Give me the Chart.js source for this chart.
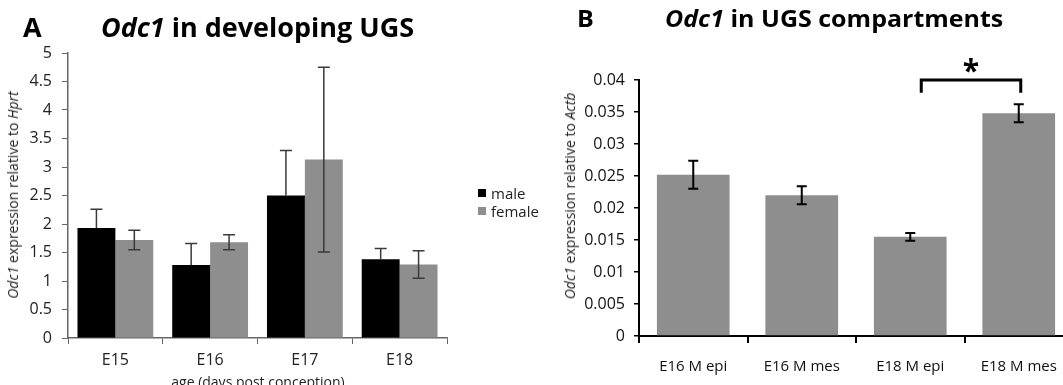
<!DOCTYPE html>
<html><head><meta charset="utf-8">
<script src="https://cdn.jsdelivr.net/npm/chart.js@4.4.1/dist/chart.umd.min.js"></script>
<style>
html,body{margin:0;padding:0;width:1063px;height:385px;overflow:hidden;background:#fff;font-family:'Open Sans',sans-serif;color:#000;}
.abs{position:absolute;white-space:nowrap;line-height:1;}
.title{font-weight:700;}
.rot{transform:translate(-50%,-50%) rotate(-90deg);}
#wrapA{position:absolute;left:0;top:0;width:560px;height:385px;}
#wrapB{position:absolute;left:540px;top:0;width:540px;height:385px;}
.sw{position:absolute;width:8px;height:8px;}
</style></head><body>
<div id="wrapA"><canvas id="chartA" width="560" height="385"></canvas></div>
<div id="wrapB"><canvas id="chartB" width="540" height="385"></canvas></div>

<div class="abs title" style="left:23px;top:13px;font-size:27px;">A</div>
<div class="abs title" style="left:101px;top:13px;font-size:27px;"><i>Odc1</i> in developing UGS</div>
<div class="abs title" style="left:577px;top:5px;font-size:25px;transform-origin:0 22px;transform:scaleY(0.9);">B</div>
<div class="abs title" style="left:665px;top:5px;font-size:25px;transform-origin:0 22px;transform:scaleY(0.9);"><i>Odc1</i> in UGS compartments</div>

<div class="abs rot" style="left:13px;top:195px;font-size:14px;color:#222;"><i>Odc1</i> expression relative to <i>Hprt</i></div>
<div class="abs rot" style="left:570px;top:196px;font-size:14px;color:#222;"><i>Odc1</i> expression relative to <i>Actb</i></div>
<div class="abs" style="left:258px;top:382px;transform:translate(-50%,-50%);font-size:14px;color:#222;">age (days post conception)</div>

<div class="sw" style="left:478px;top:189px;background:#000;"></div>
<div class="abs" style="left:491px;top:193px;transform:translateY(-50%);font-size:15px;color:#222;">male</div>
<div class="sw" style="left:478px;top:207px;background:#8e8e8e;"></div>
<div class="abs" style="left:491px;top:211px;transform:translateY(-50%);font-size:15px;color:#222;">female</div>

<script>
// ---- Panel A data ----
const categoriesA = ['E15', 'E16', 'E17', 'E18'];
const maleValues = [1.93, 1.28, 2.50, 1.38];
const maleErrors = [0.33, 0.38, 0.79, 0.19];
const femaleValues = [1.72, 1.68, 3.13, 1.29];
const femaleErrors = [0.17, 0.13, 1.62, 0.24];
const yTicksA = ['0', '0.5', '1', '1.5', '2', '2.5', '3', '3.5', '4', '4.5', '5'];

// ---- Panel B data ----
const categoriesB = ['E16 M epi', 'E16 M mes', 'E18 M epi', 'E18 M mes'];
const valuesB = [0.0252, 0.0220, 0.0155, 0.0348];
const errorsB = [0.0022, 0.0014, 0.0006, 0.0014];
const yTicksB = ['0', '0.005', '0.01', '0.015', '0.02', '0.025', '0.03', '0.035', '0.04'];
const significantPair = [2, 3];

const errorBarPlugin = {
  id: 'errorBars',
  afterDatasetsDraw(chart) {
    const ctx = chart.ctx, y = chart.scales.y;
    chart.data.datasets.forEach((ds, i) => {
      const meta = chart.getDatasetMeta(i);
      meta.data.forEach((bar, j) => {
        const v = ds.data[j], e = ds.errors[j];
        const top = y.getPixelForValue(v + e);
        const bot = ds.errPlusOnly ? y.getPixelForValue(v) : y.getPixelForValue(v - e);
        const cap = ds.errCap;
        ctx.save();
        ctx.strokeStyle = ds.errColor; ctx.lineWidth = ds.errWidth;
        ctx.beginPath();
        ctx.moveTo(bar.x, top); ctx.lineTo(bar.x, bot);
        ctx.moveTo(bar.x - cap, top); ctx.lineTo(bar.x + cap, top);
        if (!ds.errPlusOnly) { ctx.moveTo(bar.x - cap, bot); ctx.lineTo(bar.x + cap, bot); }
        ctx.stroke();
        ctx.restore();
      });
    });
  }
};

const bracketPlugin = {
  id: 'bracket',
  afterDraw(chart) {
    const ctx = chart.ctx, x = chart.scales.x, y = chart.scales.y;
    const x1 = x.getPixelForValue(significantPair[0]) + 11;
    const x2 = x.getPixelForValue(significantPair[1]) + 2;
    const top = y.getPixelForValue(0.04), leg = y.getPixelForValue(0.038);
    ctx.save();
    ctx.strokeStyle = '#000'; ctx.lineWidth = 3; ctx.lineCap = 'butt';
    ctx.beginPath();
    ctx.moveTo(x1, leg); ctx.lineTo(x1, top); ctx.lineTo(x2, top); ctx.lineTo(x2, leg);
    ctx.stroke();
    ctx.fillStyle = '#000';
    ctx.font = 'bold 30px "Open Sans"';
    ctx.textAlign = 'center'; ctx.textBaseline = 'middle';
    ctx.fillText('*', (x1 + x2) / 2, top - 8);
    ctx.restore();
  }
};

new Chart(document.getElementById('chartA'), {
  type: 'bar',
  data: {
    labels: categoriesA,
    datasets: [
      { label: 'male', data: maleValues, errors: maleErrors, backgroundColor: '#000000',
        categoryPercentage: 0.8, barPercentage: 1.0, errColor: '#3a3a3a', errWidth: 1.5, errCap: 6, errPlusOnly: true },
      { label: 'female', data: femaleValues, errors: femaleErrors, backgroundColor: '#8e8e8e',
        categoryPercentage: 0.8, barPercentage: 1.0, errColor: '#3a3a3a', errWidth: 1.5, errCap: 6 }
    ]
  },
  options: {
    responsive: false, animation: false,
    layout: { padding: { left: 0, right: 113, top: 53, bottom: 0 } },
    plugins: { legend: { display: false }, tooltip: { enabled: false } },
    scales: {
      x: {
        grid: { drawOnChartArea: false, drawTicks: true, tickLength: 6, color: '#666', offset: true },
        border: { color: '#666', width: 1.5 },
        ticks: { font: { family: 'Open Sans', size: 16 }, color: '#222', padding: 7 },
        afterFit(s) { s.height = 47; }
      },
      y: {
        min: 0, max: 5,
        grid: { drawOnChartArea: false, drawTicks: true, tickLength: 6, color: '#666' },
        border: { color: '#666', width: 1.5 },
        ticks: { stepSize: 0.5, font: { family: 'Open Sans', size: 16 }, color: '#222', padding: 10,
          callback: (v, i) => yTicksA[i] },
        afterFit(s) { s.width = 68; }
      }
    }
  },
  plugins: [errorBarPlugin]
});

new Chart(document.getElementById('chartB'), {
  type: 'bar',
  data: {
    labels: categoriesB,
    datasets: [
      { label: 'expression', data: valuesB, errors: errorsB, backgroundColor: '#8e8e8e',
        categoryPercentage: 1.0, barPercentage: 0.67, errColor: '#000', errWidth: 2, errCap: 5 }
    ]
  },
  options: {
    responsive: false, animation: false,
    layout: { padding: { left: 0, right: 7, top: 80, bottom: 0 } },
    plugins: { legend: { display: false }, tooltip: { enabled: false } },
    scales: {
      x: {
        grid: { drawOnChartArea: false, drawTicks: true, tickLength: 7, color: '#000', lineWidth: 2, offset: true },
        border: { color: '#000', width: 2 },
        ticks: { font: { family: 'Open Sans', size: 15 }, color: '#111', padding: 15 },
        afterFit(s) { s.height = 49; }
      },
      y: {
        min: 0, max: 0.04,
        grid: { drawOnChartArea: false, drawTicks: true, tickLength: 5, color: '#000', lineWidth: 1.5 },
        border: { color: '#000', width: 2 },
        ticks: { stepSize: 0.005, font: { family: 'Open Sans', size: 16 }, color: '#111', padding: 9,
          callback: (v, i) => yTicksB[i] },
        afterFit(s) { s.width = 99; }
      }
    }
  },
  plugins: [errorBarPlugin, bracketPlugin]
});
</script>
</body></html>
